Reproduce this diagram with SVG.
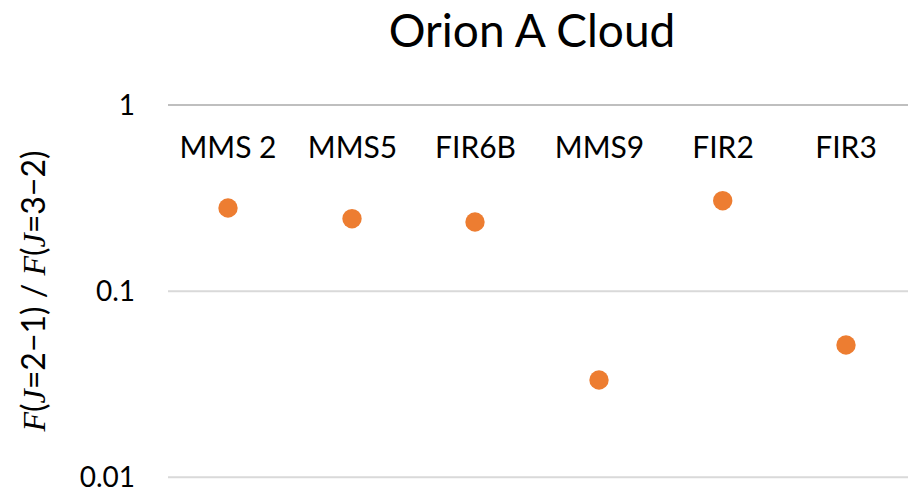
<svg xmlns="http://www.w3.org/2000/svg" width="921" height="495" viewBox="0 0 921 495">
<style>
.t{font-family:Lato,"Open Sans","Liberation Sans",sans-serif;fill:#000}
.lbl{font-size:30px;text-anchor:middle}
.tick{font-size:28px;text-anchor:end}
.g{stroke:#D9D9D9;stroke-width:2}
.dot{fill:#ED7D31}
.m{font-family:"Liberation Serif",serif;font-style:italic}
</style>
<rect width="921" height="495" fill="#fff"/>
<text class="t" x="532" y="47" font-size="46" text-anchor="middle">Orion A Cloud</text>
<g id="grid">
<line class="g" x1="168" y1="105" x2="908" y2="105" style="stroke:#BFBFBF"/>
<line class="g" x1="168" y1="291.3" x2="908" y2="291.3"/>
<line class="g" x1="168" y1="477.3" x2="908" y2="477.3"/>
</g>
<g id="yaxis">
<text class="t tick" x="135" y="115">1</text>
<text class="t tick" x="135" y="301">0.1</text>
<text class="t tick" x="135" y="487">0.01</text>
<text class="t" font-size="32" text-anchor="middle" transform="translate(45,291) rotate(-90)"><tspan class="m">F</tspan>(<tspan class="m">J</tspan>=2−1) / <tspan class="m">F</tspan>(<tspan class="m">J</tspan>=3−2)</text>
</g>
<g id="labels">
<text class="t lbl" x="228" y="157.5">MMS 2</text>
<text class="t lbl" x="352.5" y="157.5">MMS5</text>
<text class="t lbl" x="475.5" y="157.5">FIR6B</text>
<text class="t lbl" x="599.5" y="157.5">MMS9</text>
<text class="t lbl" x="723" y="157.5">FIR2</text>
<text class="t lbl" x="846" y="157.5">FIR3</text>
</g>
<g id="points">
<circle class="dot" cx="228" cy="208" r="9.7"/>
<circle class="dot" cx="352" cy="218.7" r="9.7"/>
<circle class="dot" cx="475" cy="222" r="9.7"/>
<circle class="dot" cx="599" cy="380" r="9.7"/>
<circle class="dot" cx="722.7" cy="200.7" r="9.7"/>
<circle class="dot" cx="846" cy="345" r="9.7"/>
</g>
</svg>
